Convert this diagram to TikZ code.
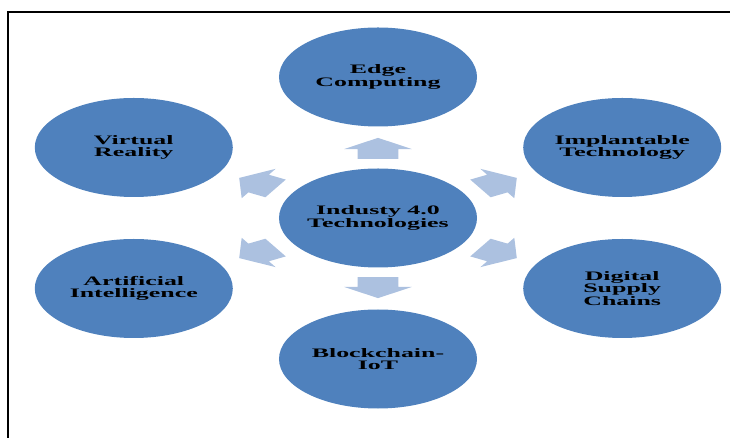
\documentclass[tikz,border=0pt]{standalone}
\usepackage{fontspec}
\setmainfont{Liberation Serif}
\usepackage{tikz}
\usetikzlibrary{shapes, arrows.meta, positioning, calc}
\definecolor{techblue}{RGB}{79,129,189}
\definecolor{spokeblue}{RGB}{172,193,224}
\tikzstyle{tech} = [circle, minimum size=99bp, inner sep=0pt, align=center, fill=techblue, text=black, font=\bfseries\fontsize{13}{12.4}\selectfont, transform shape]
\tikzstyle{spoke} = [single arrow, anchor=tail, minimum height=21bp, single arrow head extend=6.75bp, single arrow tip angle=113, inner xsep=0pt, inner ysep=10bp, fill=spokeblue, transform shape]

\begin{document}
\begin{tikzpicture}[x=1bp, y=1bp, xscale=2, node distance=141bp]
\useasboundingbox (-189,-220) rectangle (176,218);
\draw[line width=1.6bp] (-185,-222) -- (-185,206) -- (178,206);
\node (hub) [tech] at (0,0) {Industy 4.0\\Technologies};
\node (edge) [tech, above of=hub] {Edge\\Computing};
\node (block) [tech, below of=hub] {Blockchain-\\IoT};
\node (vr) [tech, left of=hub, xshift=18.9bp, yshift=70.5bp] {Virtual\\Reality};
\node (ai) [tech, left of=hub, xshift=18.9bp, yshift=-70.5bp] {Artificial\\Intelligence};
\node (impl) [tech, right of=hub, xshift=-18.9bp, yshift=70.5bp] {Implantable\\Technology};
\node (dsc) [tech, right of=hub, xshift=-18.9bp, yshift=-70.5bp] {Digital\\Supply\\Chains};
% arrows start just outside the hub
\node (spkedge) [spoke, rotate=90] at ($(hub)!0.418!(edge)$) {};
\node (spkblock) [spoke, rotate=270] at ($(hub)!0.418!(block)$) {};
\node (spkvr) [spoke, rotate=150] at ($(hub)!0.418!(vr)$) {};
\node (spkai) [spoke, rotate=210] at ($(hub)!0.418!(ai)$) {};
\node (spkimpl) [spoke, rotate=30] at ($(hub)!0.418!(impl)$) {};
\node (spkdsc) [spoke, rotate=330] at ($(hub)!0.418!(dsc)$) {};
\end{tikzpicture}
\end{document}
